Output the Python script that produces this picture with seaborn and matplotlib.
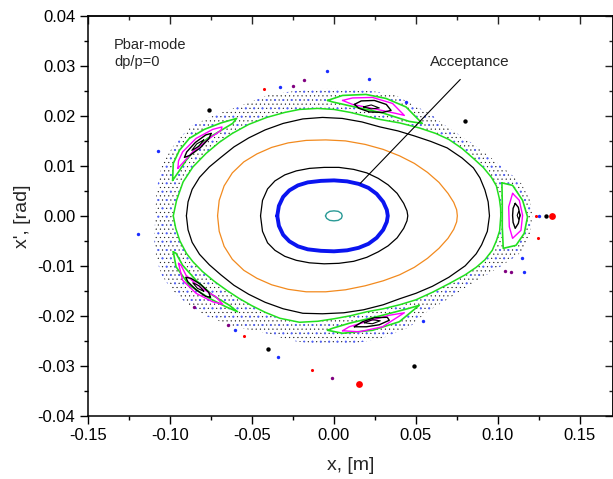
import numpy as np
import pandas as pd
import matplotlib
matplotlib.use("Agg")
import matplotlib.pyplot as plt
import seaborn as sns
from matplotlib.ticker import MultipleLocator, FuncFormatter

sns.set_style("ticks")
plt.rcParams['font.family'] = ['Liberation Sans', 'DejaVu Sans']
plt.rcParams['axes.unicode_minus'] = False
plt.rcParams['hatch.linewidth'] = 0.3

# ---------------- data ----------------
# small central orbit (teal)
teal_x = [-0.0052, -0.0045, -0.0026, 0.0000, 0.0026, 0.0045, 0.0050, 0.0045, 0.0026, 0.0000, -0.0026, -0.0045, -0.0052]
teal_y = [0.0000, 0.0005, 0.0009, 0.0010, 0.0009, 0.0005, 0.0000, -0.0005, -0.0009, -0.0010, -0.0009, -0.0005, 0.0000]

# acceptance orbit (thick blue)
blue_top_x = [-0.0346, -0.0336, -0.0310, -0.0272, -0.0220, -0.0160, -0.0080, 0.0000, 0.0080, 0.0150, 0.0210, 0.0260, 0.0300, 0.0322, 0.0328]
blue_top_y = [0.0000, 0.0020, 0.0038, 0.0051, 0.0061, 0.0067, 0.0070, 0.0071, 0.0069, 0.0064, 0.0056, 0.0044, 0.0028, 0.0012, 0.0000]
blue_bot_x = [0.0328, 0.0322, 0.0300, 0.0260, 0.0210, 0.0150, 0.0080, 0.0000, -0.0080, -0.0160, -0.0220, -0.0272, -0.0310, -0.0336, -0.0346]
blue_bot_y = [0.0000, -0.0012, -0.0028, -0.0044, -0.0056, -0.0064, -0.0069, -0.0071, -0.0070, -0.0067, -0.0061, -0.0051, -0.0038, -0.0020, 0.0000]

# inner black orbit
ib_top_x = [-0.0448, -0.0436, -0.0405, -0.0360, -0.0300, -0.0230, -0.0150, -0.0060, 0.0030, 0.0120, 0.0200, 0.0270, 0.0330, 0.0385, 0.0425, 0.0445, 0.0450]
ib_top_y = [0.0000, 0.0031, 0.0054, 0.0070, 0.0082, 0.0090, 0.0095, 0.0097, 0.0097, 0.0093, 0.0086, 0.0075, 0.0062, 0.0045, 0.0025, 0.0010, 0.0000]
ib_bot_x = [0.0450, 0.0445, 0.0425, 0.0385, 0.0330, 0.0270, 0.0200, 0.0120, 0.0030, -0.0060, -0.0150, -0.0230, -0.0300, -0.0360, -0.0405, -0.0436, -0.0448]
ib_bot_y = [0.0000, -0.0010, -0.0025, -0.0044, -0.0060, -0.0072, -0.0083, -0.0091, -0.0095, -0.0096, -0.0094, -0.0089, -0.0081, -0.0069, -0.0054, -0.0031, 0.0000]

# orange orbit
or_top_x = [-0.0710, -0.0700, -0.0670, -0.0620, -0.0550, -0.0470, -0.0380, -0.0280, -0.0170, -0.0050, 0.0070, 0.0190, 0.0300, 0.0400, 0.0490, 0.0570, 0.0640, 0.0695, 0.0730, 0.0748, 0.0752]
or_top_y = [0.0000, 0.0031, 0.0060, 0.0086, 0.0108, 0.0124, 0.0137, 0.0146, 0.0151, 0.0152, 0.0150, 0.0143, 0.0133, 0.0120, 0.0105, 0.0087, 0.0067, 0.0045, 0.0027, 0.0012, 0.0000]
or_bot_x = [0.0752, 0.0748, 0.0730, 0.0695, 0.0640, 0.0570, 0.0490, 0.0400, 0.0300, 0.0190, 0.0070, -0.0050, -0.0170, -0.0280, -0.0380, -0.0470, -0.0550, -0.0620, -0.0670, -0.0700, -0.0710]
or_bot_y = [0.0000, -0.0012, -0.0027, -0.0045, -0.0065, -0.0085, -0.0103, -0.0118, -0.0130, -0.0140, -0.0148, -0.0152, -0.0152, -0.0147, -0.0138, -0.0125, -0.0109, -0.0087, -0.0061, -0.0031, 0.0000]

# outer black orbit
ob_top_x = [-0.0900, -0.0890, -0.0865, -0.0820, -0.0760, -0.0690, -0.0610, -0.0520, -0.0420, -0.0310, -0.0190, -0.0070, 0.0050, 0.0170, 0.0280, 0.0390, 0.0490, 0.0590, 0.0690, 0.0780, 0.0850, 0.0890, 0.0920, 0.0940, 0.0948]
ob_top_y = [0.0000, 0.0028, 0.0053, 0.0077, 0.0098, 0.0117, 0.0138, 0.0156, 0.0172, 0.0185, 0.0194, 0.0197, 0.0195, 0.0188, 0.0178, 0.0170, 0.0160, 0.0149, 0.0136, 0.0116, 0.0096, 0.0076, 0.0052, 0.0028, 0.0000]
ob_bot_x = [0.0948, 0.0935, 0.0900, 0.0867, 0.0800, 0.0700, 0.0600, 0.0500, 0.0400, 0.0300, 0.0180, 0.0060, -0.0070, -0.0190, -0.0310, -0.0420, -0.0520, -0.0610, -0.0690, -0.0760, -0.0820, -0.0865, -0.0890, -0.0900]
ob_bot_y = [0.0000, -0.0031, -0.0058, -0.0076, -0.0100, -0.0123, -0.0141, -0.0155, -0.0166, -0.0178, -0.0188, -0.0194, -0.0196, -0.0195, -0.0186, -0.0173, -0.0157, -0.0139, -0.0118, -0.0098, -0.0077, -0.0053, -0.0028, 0.0000]

# last regular orbit (green)
gr_top_x = [-0.0980, -0.0960, -0.0920, -0.0860, -0.0780, -0.0700, -0.0620, -0.0520, -0.0410, -0.0300, -0.0210, -0.0100, 0.0000, 0.0100, 0.0200, 0.0280, 0.0400, 0.0520, 0.0620, 0.0700, 0.0780, 0.0850, 0.0910, 0.0960, 0.0990, 0.1008, 0.1016, 0.1017]
gr_top_y = [0.0000, 0.0031, 0.0068, 0.0098, 0.0125, 0.0147, 0.0165, 0.0183, 0.0197, 0.0207, 0.0213, 0.0215, 0.0213, 0.0207, 0.0199, 0.0193, 0.0186, 0.0176, 0.0165, 0.0153, 0.0135, 0.0115, 0.0097, 0.0077, 0.0060, 0.0035, 0.0015, 0.0000]
gr_bot_x = [0.1017, 0.1010, 0.0990, 0.0965, 0.0920, 0.0867, 0.0800, 0.0700, 0.0600, 0.0500, 0.0400, 0.0300, 0.0200, 0.0100, 0.0000, -0.0100, -0.0210, -0.0330, -0.0420, -0.0500, -0.0580, -0.0650, -0.0730, -0.0800, -0.0860, -0.0900, -0.0940, -0.0965, -0.0980]
gr_bot_y = [0.0000, -0.0030, -0.0050, -0.0069, -0.0088, -0.0103, -0.0118, -0.0136, -0.0153, -0.0168, -0.0178, -0.0186, -0.0192, -0.0200, -0.0206, -0.0211, -0.0213, -0.0205, -0.0193, -0.0180, -0.0165, -0.0150, -0.0131, -0.0112, -0.0092, -0.0075, -0.0050, -0.0025, 0.0000]

# outer edge of the chaotic layer
band_x = [-0.1090, -0.1083, -0.1047, -0.0962, -0.0864, -0.0718, -0.0596, -0.0516, -0.0394, -0.0212, -0.0047, 0.0093, 0.0246, 0.0368, 0.0477, 0.0582, 0.0685, 0.0843, 0.0947, 0.1051, 0.1142, 0.1197, 0.1209, 0.1197, 0.1142, 0.1026, 0.0843, 0.0703, 0.0563, 0.0459, 0.0295, 0.0093, -0.0108, -0.0272, -0.0413, -0.0619, -0.0777, -0.0899, -0.0985, -0.1047, -0.1083, -0.1095]
band_y = [0.0000, 0.0051, 0.0105, 0.0149, 0.0181, 0.0203, 0.0217, 0.0227, 0.0243, 0.0251, 0.0255, 0.0253, 0.0249, 0.0243, 0.0223, 0.0205, 0.0179, 0.0145, 0.0119, 0.0091, 0.0065, 0.0031, 0.0001, -0.0039, -0.0073, -0.0099, -0.0135, -0.0165, -0.0193, -0.0223, -0.0245, -0.0257, -0.0257, -0.0249, -0.0235, -0.0221, -0.0201, -0.0175, -0.0149, -0.0121, -0.0087, -0.0049]

# five resonance islands: green lobe, magenta, black, inner black
isl1_green_x = [-0.0984, -0.0980, -0.0943, -0.0882, -0.0791, -0.0689, -0.0594, -0.0618, -0.0689, -0.0771, -0.0841, -0.0902, -0.0948]
isl1_green_y = [0.0071, 0.0105, 0.0131, 0.0155, 0.0173, 0.0186, 0.0195, 0.0185, 0.0171, 0.0155, 0.0135, 0.0111, 0.0088]
isl1_mag_x = [-0.0952, -0.0948, -0.0923, -0.0841, -0.0740, -0.0683, -0.0689, -0.0760, -0.0862, -0.0925]
isl1_mag_y = [0.0095, 0.0110, 0.0128, 0.0155, 0.0173, 0.0178, 0.0171, 0.0155, 0.0128, 0.0105]
isl1_blk_x = [-0.0749, -0.0762, -0.0816, -0.0879, -0.0912, -0.0898, -0.0845, -0.0782]
isl1_blk_y = [0.0165, 0.0155, 0.0136, 0.0121, 0.0117, 0.0128, 0.0147, 0.0162]
isl1_in_x = [-0.0794, -0.0825, -0.0867, -0.0837]
isl1_in_y = [0.0152, 0.0139, 0.0131, 0.0144]

isl2_green_x = [-0.0039, 0.0052, 0.0195, 0.0317, 0.0439, 0.0538, 0.0459, 0.0296, 0.0113, -0.0009]
isl2_green_y = [0.0231, 0.0241, 0.0243, 0.0235, 0.0218, 0.0185, 0.0189, 0.0206, 0.0219, 0.0228]
isl2_mag_x = [0.0052, 0.0113, 0.0235, 0.0357, 0.0429, 0.0378, 0.0235, 0.0113]
isl2_mag_y = [0.0231, 0.0236, 0.0237, 0.0225, 0.0201, 0.0205, 0.0215, 0.0223]
isl2_blk_x = [0.0124, 0.0166, 0.0246, 0.0319, 0.0348, 0.0295, 0.0215, 0.0154]
isl2_blk_y = [0.0223, 0.0230, 0.0231, 0.0223, 0.0211, 0.0207, 0.0208, 0.0215]
isl2_in_x = [0.0179, 0.0227, 0.0276, 0.0227]
isl2_in_y = [0.0218, 0.0222, 0.0216, 0.0214]

isl3_green_x = [0.1024, 0.1089, 0.1150, 0.1180, 0.1160, 0.1110, 0.1032, 0.1026, 0.1026]
isl3_green_y = [0.0066, 0.0061, 0.0031, -0.0002, -0.0035, -0.0059, -0.0065, -0.0022, 0.0025]
isl3_mag_x = [0.1089, 0.1130, 0.1150, 0.1140, 0.1089, 0.1069, 0.1065]
isl3_mag_y = [0.0045, 0.0031, 0.0001, -0.0029, -0.0045, -0.0022, 0.0018]
isl3_blk_x = [0.1105, 0.1124, 0.1134, 0.1124, 0.1105, 0.1092, 0.1089, 0.1092]
isl3_blk_y = [0.0025, 0.0017, 0.0001, -0.0015, -0.0025, -0.0013, 0.0001, 0.0015]
isl3_in_x = [0.1126, 0.1135, 0.1126, 0.1117]
isl3_in_y = [0.0009, 0.0001, -0.0007, 0.0001]

isl4_green_x = [-0.0039, 0.0052, 0.0235, 0.0398, 0.0520, 0.0459, 0.0296, 0.0093, -0.0009]
isl4_green_y = [-0.0229, -0.0235, -0.0229, -0.0212, -0.0179, -0.0185, -0.0199, -0.0215, -0.0225]
isl4_mag_x = [0.0052, 0.0154, 0.0296, 0.0429, 0.0337, 0.0195, 0.0093]
isl4_mag_y = [-0.0230, -0.0232, -0.0222, -0.0194, -0.0199, -0.0212, -0.0222]
isl4_blk_x = [0.0124, 0.0197, 0.0276, 0.0337, 0.0325, 0.0246, 0.0173]
isl4_blk_y = [-0.0222, -0.0222, -0.0218, -0.0209, -0.0203, -0.0204, -0.0212]
isl4_in_x = [0.0185, 0.0234, 0.0282, 0.0234]
isl4_in_y = [-0.0214, -0.0208, -0.0210, -0.0216]

isl5_green_x = [-0.0980, -0.0963, -0.0882, -0.0760, -0.0659, -0.0588, -0.0638, -0.0740, -0.0841, -0.0923, -0.0963]
isl5_green_y = [-0.0072, -0.0102, -0.0139, -0.0165, -0.0182, -0.0192, -0.0179, -0.0159, -0.0129, -0.0099, -0.0075]
isl5_mag_x = [-0.0948, -0.0923, -0.0841, -0.0740, -0.0679, -0.0720, -0.0821, -0.0902, -0.0933]
isl5_mag_y = [-0.0095, -0.0129, -0.0155, -0.0172, -0.0177, -0.0162, -0.0142, -0.0119, -0.0099]
isl5_blk_x = [-0.0753, -0.0783, -0.0841, -0.0891, -0.0904, -0.0872, -0.0814, -0.0764]
isl5_blk_y = [-0.0163, -0.0161, -0.0148, -0.0132, -0.0123, -0.0125, -0.0137, -0.0153]
isl5_in_x = [-0.0794, -0.0833, -0.0861, -0.0822]
isl5_in_y = [-0.0151, -0.0145, -0.0134, -0.0140]

# isolated (escaping) particles
black_dot_x = [-0.0765, 0.0797, -0.0405, 0.0485, 0.1292]
black_dot_y = [0.0211, 0.0190, -0.0267, -0.0301, 0.0000]
red_big_x = [0.0154, 0.1329]
red_big_y = [-0.0337, 0.0000]
red_small_x = [-0.0429, -0.0547, -0.0137, 0.1246, 0.1234]
red_small_y = [0.0253, -0.0240, -0.0309, -0.0045, 0.0000]
blue_dot_x = [-0.1071, -0.1198, -0.0327, -0.0045, 0.0215, 0.0439, -0.0602, -0.0344, 0.0545, 0.1144, 0.1156, 0.1252]
blue_dot_y = [0.0130, -0.0037, 0.0258, 0.0289, 0.0273, 0.0228, -0.0229, -0.0283, -0.0211, -0.0084, -0.0112, 0.0000]
purple_dot_x = [-0.0248, -0.0181, -0.0856, -0.0646, -0.0012, 0.1045, 0.1081]
purple_dot_y = [0.0259, 0.0271, -0.0182, -0.0219, -0.0325, -0.0111, -0.0113]

# annotations
acc_text = "Acceptance"
acc_text_xy = (0.0825, 0.0307)
acc_line_x = [0.0770, 0.0160]
acc_line_y = [0.0273, 0.0065]
info_text = "Pbar-mode\ndp/p=0"
info_xy = (-0.134, 0.0356)

# ---------------- figure ----------------
fig = plt.figure(figsize=(6.13, 4.79), dpi=100)
ax = fig.add_axes([88 / 613, 63.3 / 479, 524.8 / 613, 399.7 / 479])


def curve(xs, ys, color, lw, closed=True, z=3):
    xs = list(xs)
    ys = list(ys)
    if closed:
        xs = xs + xs[:1]
        ys = ys + ys[:1]
    df = pd.DataFrame({"x": xs, "y": ys})
    sns.lineplot(data=df, x="x", y="y", sort=False, estimator=None,
                 color=color, lw=lw, ax=ax, zorder=z)


# chaotic layer (dotted texture)
ax.fill(band_x, band_y, facecolor="none", edgecolor="#1a1a1a", hatch="....", lw=0, zorder=1)
ax.fill(band_x, band_y, facecolor="none", edgecolor="#4f60ff", hatch="..", lw=0, zorder=1.1)
ax.fill(gr_top_x + gr_bot_x, gr_top_y + gr_bot_y, color="white", lw=0, zorder=1.5)
islands = [
    (isl1_green_x, isl1_green_y, isl1_mag_x, isl1_mag_y, isl1_blk_x, isl1_blk_y, isl1_in_x, isl1_in_y),
    (isl2_green_x, isl2_green_y, isl2_mag_x, isl2_mag_y, isl2_blk_x, isl2_blk_y, isl2_in_x, isl2_in_y),
    (isl3_green_x, isl3_green_y, isl3_mag_x, isl3_mag_y, isl3_blk_x, isl3_blk_y, isl3_in_x, isl3_in_y),
    (isl4_green_x, isl4_green_y, isl4_mag_x, isl4_mag_y, isl4_blk_x, isl4_blk_y, isl4_in_x, isl4_in_y),
    (isl5_green_x, isl5_green_y, isl5_mag_x, isl5_mag_y, isl5_blk_x, isl5_blk_y, isl5_in_x, isl5_in_y),
]
for gx, gy, mx, my, bx, by, ix, iy in islands:
    ax.fill(gx, gy, color="white", lw=0, zorder=1.5)
    curve(gx, gy, "#22e01e", 1.2)
    curve(mx, my, "#ff00ff", 1.0)
    curve(bx, by, "black", 1.0)
    curve(ix, iy, "black", 0.8)

curve(gr_top_x + gr_bot_x[1:], gr_top_y + gr_bot_y[1:], "#22e01e", 1.1, closed=False)
curve(ob_top_x + ob_bot_x[1:], ob_top_y + ob_bot_y[1:], "black", 0.9, closed=False)
curve(or_top_x + or_bot_x[1:], or_top_y + or_bot_y[1:], "#f28a1e", 0.9, closed=False)
curve(ib_top_x + ib_bot_x[1:], ib_top_y + ib_bot_y[1:], "black", 0.9, closed=False)
curve(blue_top_x + blue_bot_x[1:], blue_top_y + blue_bot_y[1:], "#0a14f0", 2.8, closed=False)
curve(teal_x, teal_y, "#2a9a96", 1.0, closed=False)

sns.scatterplot(x=blue_dot_x, y=blue_dot_y, color="#1a2cff", s=6, linewidth=0, ax=ax, zorder=4)
sns.scatterplot(x=purple_dot_x, y=purple_dot_y, color="#800080", s=6, linewidth=0, ax=ax, zorder=4)
sns.scatterplot(x=red_small_x, y=red_small_y, color="#ff0000", s=5, linewidth=0, ax=ax, zorder=4)
sns.scatterplot(x=black_dot_x, y=black_dot_y, color="black", s=10, linewidth=0, ax=ax, zorder=4)
sns.scatterplot(x=red_big_x, y=red_big_y, color="#ff0000", s=24, linewidth=0, ax=ax, zorder=4)

ax.plot(acc_line_x, acc_line_y, color="black", lw=0.8, zorder=5)
ax.text(acc_text_xy[0], acc_text_xy[1], acc_text, ha="center", va="center", fontsize=11, zorder=5)
ax.text(info_xy[0], info_xy[1], info_text, ha="left", va="top", fontsize=10.5, linespacing=1.25)

# axes
ax.set_xlim(-0.15, 0.17)
ax.set_ylim(-0.04, 0.04)
fmt = FuncFormatter(lambda v, p: f"{0.0 if abs(v) < 1e-9 else v:.2f}")
ax.xaxis.set_major_locator(MultipleLocator(0.05))
ax.xaxis.set_minor_locator(MultipleLocator(0.025))
ax.yaxis.set_major_locator(MultipleLocator(0.01))
ax.yaxis.set_minor_locator(MultipleLocator(0.005))
ax.xaxis.set_major_formatter(fmt)
ax.yaxis.set_major_formatter(fmt)
ax.tick_params(which="both", direction="out", top=False, right=False, width=1.0, colors="black", labelsize=12)
ax.tick_params(which="major", length=5.5, pad=3.5)
ax.tick_params(which="minor", length=3)
for s in ax.spines.values():
    s.set_linewidth(1.1)
    s.set_color("black")

secx = ax.secondary_xaxis("top")
secx.xaxis.set_major_locator(MultipleLocator(0.05))
secx.xaxis.set_minor_locator(MultipleLocator(0.025))
secx.tick_params(which="both", direction="in", labeltop=False, width=1.0)
secx.tick_params(which="major", length=5.5)
secx.tick_params(which="minor", length=3)
secy = ax.secondary_yaxis("right")
secy.yaxis.set_major_locator(MultipleLocator(0.01))
secy.yaxis.set_minor_locator(MultipleLocator(0.005))
secy.tick_params(which="both", direction="in", labelright=False, width=1.0)
secy.tick_params(which="major", length=5.5)
secy.tick_params(which="minor", length=3)
for sa in (secx, secy):
    for s in sa.spines.values():
        s.set_linewidth(1.1)

ax.set_xlabel("x, [m]", fontsize=14, labelpad=10)
ax.set_ylabel("x', [rad]", fontsize=14, labelpad=5)

fig.savefig("out.png", dpi=100)
